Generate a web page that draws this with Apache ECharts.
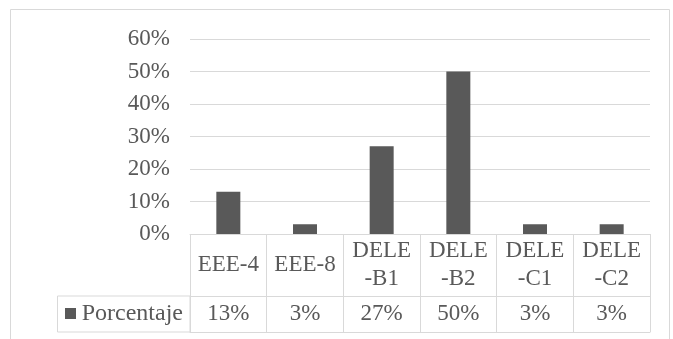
<!DOCTYPE html>
<html>
<head>
<meta charset="utf-8">
<script src="https://cdn.jsdelivr.net/npm/echarts@6/dist/echarts.min.js"></script>
<style>
  html, body { margin: 0; padding: 0; background: #fff; }
  #chart { width: 673px; height: 339px; }
</style>
</head>
<body>
<div id="chart"></div>
<script>
const categories = ['EEE-4', 'EEE-8', 'DELE-B1', 'DELE-B2', 'DELE-C1', 'DELE-C2'];
const values = [0.13, 0.03, 0.27, 0.50, 0.03, 0.03];
const seriesName = 'Porcentaje';
const yTicks = [0, 0.1, 0.2, 0.3, 0.4, 0.5, 0.6];

const FONT = 'Liberation Serif';
const TEXT = '#595959';
const LINE = '#d9d9d9';
const pct = v => Math.round(v * 100) + '%';

let myChart = echarts.init(document.getElementById('chart'));
let option = {
  animation: false,
  textStyle: { fontFamily: FONT },
  grid: [
    { left: 190, right: 23, top: 39, bottom: 105 },
    { left: 190, right: 23, top: 296, height: 36 }
  ],
  // legend key only; the name sits in the table row label
  legend: {
    data: [seriesName],
    left: 65,
    top: 308,
    padding: 0,
    icon: 'rect',
    itemWidth: 11,
    itemHeight: 11,
    formatter: () => ''
  },
  xAxis: [
    {
      type: 'category',
      gridIndex: 0,
      data: categories,
      axisLine: { lineStyle: { color: LINE, width: 1 } },
      axisTick: { show: true, alignWithLabel: false, length: 62, lineStyle: { color: LINE } },
      axisLabel: {
        interval: 0,
        margin: 31,
        verticalAlign: 'middle',
        fontFamily: FONT,
        fontSize: 23,
        lineHeight: 28,
        color: TEXT,
        formatter: v => v.replace('DELE-', 'DELE\n-')
      }
    },
    {
      type: 'category',
      gridIndex: 1,
      data: categories,
      axisLine: { lineStyle: { color: LINE, width: 1 } },
      axisTick: { show: false },
      splitLine: { show: true, lineStyle: { color: LINE } },
      axisLabel: {
        interval: 0,
        margin: -18,
        verticalAlign: 'middle',
        fontFamily: FONT,
        fontSize: 23,
        color: TEXT,
        formatter: (v, i) => pct(values[i])
      }
    }
  ],
  yAxis: [
    {
      type: 'value',
      gridIndex: 0,
      min: yTicks[0],
      max: yTicks[yTicks.length - 1],
      interval: 0.1,
      axisLine: { show: false },
      axisTick: { show: false },
      splitLine: { lineStyle: { color: LINE, width: 1 } },
      axisLabel: {
        margin: 20,
        fontFamily: FONT,
        fontSize: 23,
        color: TEXT,
        formatter: v => pct(v)
      }
    },
    {
      type: 'category',
      gridIndex: 1,
      data: [seriesName],
      axisLine: { show: false },
      axisTick: { show: false },
      splitLine: { show: true, lineStyle: { color: LINE } },
      axisLabel: {
        margin: 7,
        fontFamily: FONT,
        fontSize: 24,
        color: TEXT
      }
    }
  ],
  graphic: [
    // chart area frame
    { type: 'rect', shape: { x: 10.5, y: 9.5, width: 659, height: 340 }, style: { fill: 'none', stroke: LINE, lineWidth: 1 }, z: 0 },
    // legend cell of the data table
    { type: 'rect', shape: { x: 57.5, y: 296, width: 132.5, height: 36 }, style: { fill: 'none', stroke: LINE, lineWidth: 1 }, z: 0 }
  ],
  series: [
    {
      type: 'bar',
      name: seriesName,
      xAxisIndex: 0,
      yAxisIndex: 0,
      barWidth: 24,
      itemStyle: { color: '#595959' },
      data: values
    }
  ]
};
option && myChart.setOption(option);
</script>
</body>
</html>
